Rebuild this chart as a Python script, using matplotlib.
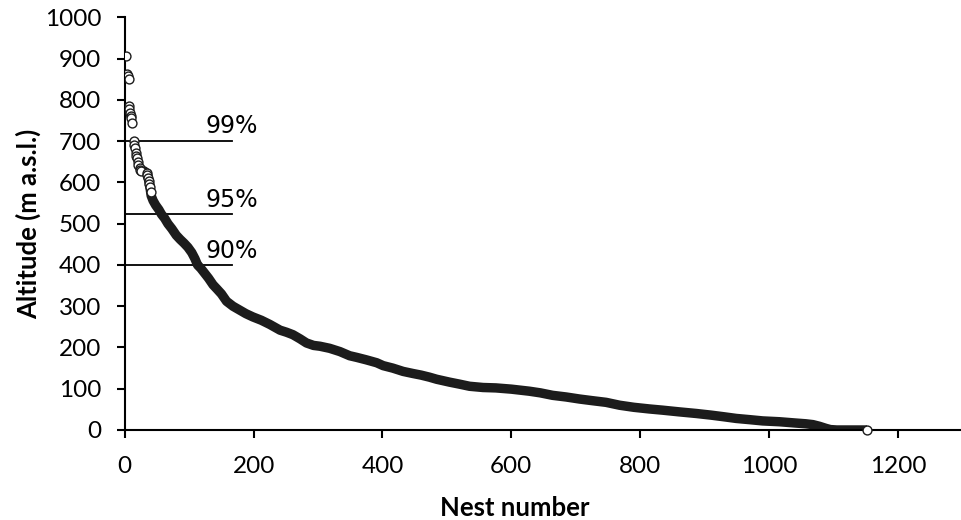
import matplotlib

matplotlib.use("Agg")

import matplotlib.pyplot as plt

# ranked nests: the few high ones that show as separate open circles
top_nest = [2, 4, 5, 6, 6, 7, 8, 9, 10, 12,
            14, 15, 16, 17, 18, 19, 20, 21, 23, 24, 25,
            34, 35, 36, 37, 38, 39, 40]
top_alt = [906, 862, 857, 851, 786, 777, 768, 762, 756, 743,
           700, 692, 684, 672, 665, 659, 649, 642, 635, 631, 628,
           623, 618, 611, 603, 596, 588, 578]

# the dense part of the ranking (markers overlap into a solid band)
band_nest = [25, 30, 34, 37, 39, 41, 44, 48, 53, 57, 62, 67, 73, 80, 86, 92,
             98, 104, 109, 113, 118, 124, 130, 137, 143, 150, 158, 168, 178,
             188, 199, 212, 225, 241, 251, 261, 272, 282, 293, 303, 318, 334,
             349, 360, 375, 391, 401, 416, 432, 447, 460, 473, 484, 504, 520,
             535, 556, 576, 600, 628, 645, 664, 685, 706, 726, 747, 768, 790,
             814, 835, 860, 887, 910, 930, 949, 970, 990, 1016, 1040, 1057,
             1068, 1078, 1088, 1095, 1105, 1130, 1152]
band_alt = [629, 628, 623, 608, 590, 568, 556, 545, 534, 523, 513, 500, 488,
            472, 462, 453, 443, 430, 415, 400, 392, 380, 368, 352, 342, 330,
            312, 300, 291, 282, 274, 266, 256, 242, 237, 231, 221, 211, 205,
            203, 198, 190, 180, 176, 170, 163, 156, 150, 142, 137, 133, 128,
            123, 116, 111, 106, 103, 102, 99, 94, 90, 84, 80, 75, 71, 67, 60,
            55, 51, 48, 44, 40, 36, 32, 28, 25, 22, 20, 17, 15, 13, 9, 4, 1,
            0, 0, 0]

last_nest = [1152]
last_alt = [0]

# percentile altitudes
pct_labels = ["99%", "95%", "90%"]
pct_alt = [701, 523, 399]
pct_end = 166

LABEL_FONT = "Lato"

fig = plt.figure(figsize=(9.61, 5.20), dpi=100)
ax = fig.add_axes([0.1298, 0.1731, 0.8717, 0.7933])

ax.plot(band_nest, band_alt, color="#1c1c1c", linewidth=6.8,
        solid_joinstyle="round", solid_capstyle="butt", zorder=2)
ax.plot(top_nest, top_alt, linestyle="none", marker="o", markersize=6.4,
        markerfacecolor="white", markeredgecolor="#1c1c1c",
        markeredgewidth=1.0, zorder=3)
ax.plot(last_nest, last_alt, linestyle="none", marker="o", markersize=6.4,
        markerfacecolor="white", markeredgecolor="#1c1c1c",
        markeredgewidth=1.0, zorder=4, clip_on=False)

for lab, alt in zip(pct_labels, pct_alt):
    ax.plot([0, pct_end], [alt, alt], color="black", linewidth=1.3, zorder=1)
    ax.text(125, alt + 6, lab, fontsize=17, family="DejaVu Sans",
            ha="left", va="bottom")

ax.set_xlim(0, 1300)
ax.set_ylim(0, 1000)
ax.set_xticks(range(0, 1300, 200))
ax.set_yticks(range(0, 1001, 100))

for side in ["top", "right"]:
    ax.spines[side].set_visible(False)
for side in ["left", "bottom"]:
    ax.spines[side].set_linewidth(1.5)

ax.tick_params(axis="both", direction="out", length=5.5, width=1.5,
               labelsize=17.5)
ax.tick_params(axis="x", pad=13)
ax.tick_params(axis="y", pad=11.5)
for lab in ax.get_xticklabels() + ax.get_yticklabels():
    lab.set_family(LABEL_FONT)

ax.set_xlabel("Nest number", fontsize=18.5, fontweight="bold", family=LABEL_FONT)
ax.set_ylabel("Altitude (m a.s.l.)", fontsize=18.5, fontweight="bold",
              family=LABEL_FONT)
ax.xaxis.set_label_coords(0.465, -0.19)
ax.yaxis.set_label_coords(-0.1154, 0.5)
ax.xaxis.label.set_va("center")
ax.yaxis.label.set_va("center")

fig.savefig("out.png", dpi=100)
